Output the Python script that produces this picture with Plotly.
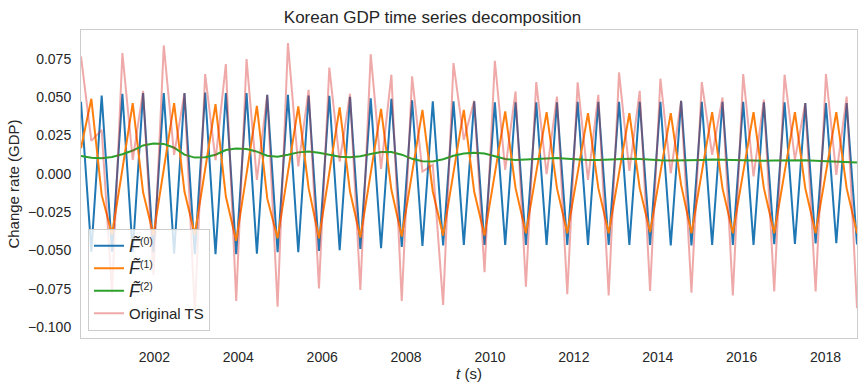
import numpy as np
import plotly.graph_objects as go

# ---- data (quarterly samples) ----
t_start, t_end = 2000.25, 2018.75

f0 = [0.047, -0.0507, 0.0511, -0.0507, 0.0522, -0.051, 0.0526, -0.051, 0.0526, -0.052,
      0.0526, -0.0524, 0.053, -0.0524, 0.0526, -0.0524, 0.0526, -0.052, 0.0515, -0.0511,
      0.0515, -0.0511, 0.0511, -0.0502, 0.0509, -0.0498, 0.0502, -0.0489, 0.0493, -0.0485,
      0.0489, -0.0476, 0.048, -0.047, 0.0472, -0.0467, 0.0472, -0.0463, 0.0472, -0.0463,
      0.0467, -0.0463, 0.0467, -0.0463, 0.0467, -0.0463, 0.0467, -0.0463, 0.047, -0.0463,
      0.047, -0.0463, 0.047, -0.0463, 0.047, -0.0463, 0.047, -0.0467, 0.0476, -0.0467,
      0.047, -0.0463, 0.047, -0.0463, 0.047, -0.0463, 0.0467, -0.0459, 0.0467, -0.0457,
      0.0461, -0.0454, 0.0461, -0.0452, 0.0461, -0.046]

f1 = [0.0167, 0.0489, -0.0137, -0.0395, 0.003, 0.0461, -0.012, -0.0398, 0.003, 0.0461,
      -0.0115, -0.0395, 0.003, 0.0454, -0.0148, -0.0437, 0.0, 0.0443, -0.016, -0.042,
      0.001, 0.0439, -0.0093, -0.042, 0.0007, 0.0433, -0.0115, -0.0415, 0.0005, 0.0424,
      -0.0104, -0.0409, 0.0005, 0.0417, -0.0115, -0.0402, 0.0008, 0.0417, -0.0115, -0.0402,
      0.0003, 0.0407, -0.0093, -0.0387, 0.001, 0.0402, -0.0093, -0.0387, 0.0005, 0.0396,
      -0.0093, -0.0387, 0.0005, 0.0396, -0.0093, -0.038, 0.001, 0.0396, -0.0072, -0.0387,
      0.001, 0.0402, -0.0093, -0.0387, 0.001, 0.0402, -0.0093, -0.0387, 0.001, 0.0402,
      -0.0093, -0.0387, 0.001, 0.0402, -0.0093, -0.0387]

f2 = [0.0117, 0.0105, 0.0102, 0.011, 0.0128, 0.0152, 0.0185, 0.0198, 0.0195, 0.017,
      0.0125, 0.0106, 0.0108, 0.0125, 0.0155, 0.0165, 0.0162, 0.0145, 0.0118, 0.0112,
      0.0125, 0.014, 0.0145, 0.0138, 0.0125, 0.0112, 0.0108, 0.0115, 0.013, 0.0143,
      0.0143, 0.0125, 0.0098, 0.0082, 0.008, 0.0095, 0.0118, 0.0133, 0.0137, 0.0133,
      0.0115, 0.0097, 0.009, 0.0093, 0.0099, 0.0103, 0.0103, 0.0099, 0.0093, 0.009,
      0.009, 0.0093, 0.0097, 0.0099, 0.0097, 0.0092, 0.0088, 0.0087, 0.0087, 0.0088,
      0.0091, 0.0093, 0.0091, 0.0088, 0.0086, 0.0085, 0.0085, 0.0087, 0.0089, 0.009,
      0.0089, 0.0086, 0.0083, 0.008, 0.0078, 0.0074]

original = [0.0765, 0.0215, 0.0287, -0.0778, 0.0787, 0.0091, 0.0541, -0.066, 0.0837, 0.0124,
            0.0526, -0.0904, 0.065, 0.009, 0.0715, -0.0828, 0.0748, -0.0039, 0.0515, -0.0865,
            0.0852, 0.0048, 0.0548, -0.0746, 0.0693, 0.008, 0.0522, -0.0757, 0.078, 0.0033,
            0.0646, -0.0828, 0.0635, 0.0015, 0.0059, -0.0854, 0.0722, 0.0222, 0.0476, -0.0641,
            0.0737, 0.0026, 0.0537, -0.0735, 0.0598, -0.0002, 0.0504, -0.0785, 0.0596, -0.0039,
            0.0515, -0.0793, 0.0661, 0.002, 0.0541, -0.0763, 0.062, 0.0004, 0.0476, -0.0774,
            0.0598, 0.0124, 0.0498, -0.0793, 0.065, -0.0017, 0.0483, -0.0767, 0.0646, 0.0091,
            0.0461, -0.0767, 0.065, -0.0007, 0.0504, -0.0876]

names = ['<span style="font-size:18px"><i>F̃</i></span><sup>(0)</sup>',
         '<span style="font-size:18px"><i>F̃</i></span><sup>(1)</sup>',
         '<span style="font-size:18px"><i>F̃</i></span><sup>(2)</sup>',
         "Original TS"]
x_ticks = [2002, 2004, 2006, 2008, 2010, 2012, 2014, 2016, 2018]
y_ticks = [-0.100, -0.075, -0.050, -0.025, 0.000, 0.025, 0.050, 0.075]

t = np.linspace(t_start, t_end, len(original))

FONT = "Liberation Sans, Arial, DejaVu Sans, sans-serif"
fig = go.Figure()
series = [f0, f1, f2, original]
colors = ["#1f77b4", "#ff7f0e", "#2ca02c", "rgba(214,39,40,0.4)"]
for ys, nm, c in zip(series, names, colors):
    fig.add_trace(go.Scatter(x=t, y=ys, mode="lines", name=nm,
                             line=dict(color=c, width=2)))

fig.update_layout(
    width=865, height=392,
    margin=dict(l=81, r=8, t=30, b=54, autoexpand=False),
    paper_bgcolor="white", plot_bgcolor="white",
    font=dict(family=FONT, size=14, color="#262626"),
    title=dict(text="Korean GDP time series decomposition", x=0.5, xanchor="center",
               y=1 - 17 / 392, yanchor="middle", font=dict(size=17, color="#262626")),
    showlegend=True,
    legend=dict(x=0.009, y=0.024, xanchor="left", yanchor="bottom",
                bgcolor="rgba(255,255,255,0.8)", bordercolor="#cccccc", borderwidth=1,
                font=dict(size=15, color="#262626"), tracegroupgap=0),
)
fig.update_xaxes(range=[t_start, t_end], tickvals=x_ticks, tickformat="d",
                 showgrid=False, zeroline=False, showline=True, mirror=True,
                 linecolor="#cccccc", linewidth=1, ticks="", ticklabelstandoff=6,
                 automargin=False,
                 title=dict(text="<i>t</i> (s)", font=dict(size=15), standoff=2))
fig.update_yaxes(range=[-0.10697, 0.09375], tickvals=y_ticks, tickformat=".3f",
                 showgrid=False, zeroline=False, showline=True, mirror=True,
                 linecolor="#cccccc", linewidth=1, ticks="", ticklabelstandoff=6,
                 automargin=False,
                 title=dict(text="Change rate (GDP)", font=dict(size=15), standoff=4))

fig.write_html("out.html", config={"displayModeBar": False},
               post_script="document.body.style.margin='0';document.body.style.padding='0';")
